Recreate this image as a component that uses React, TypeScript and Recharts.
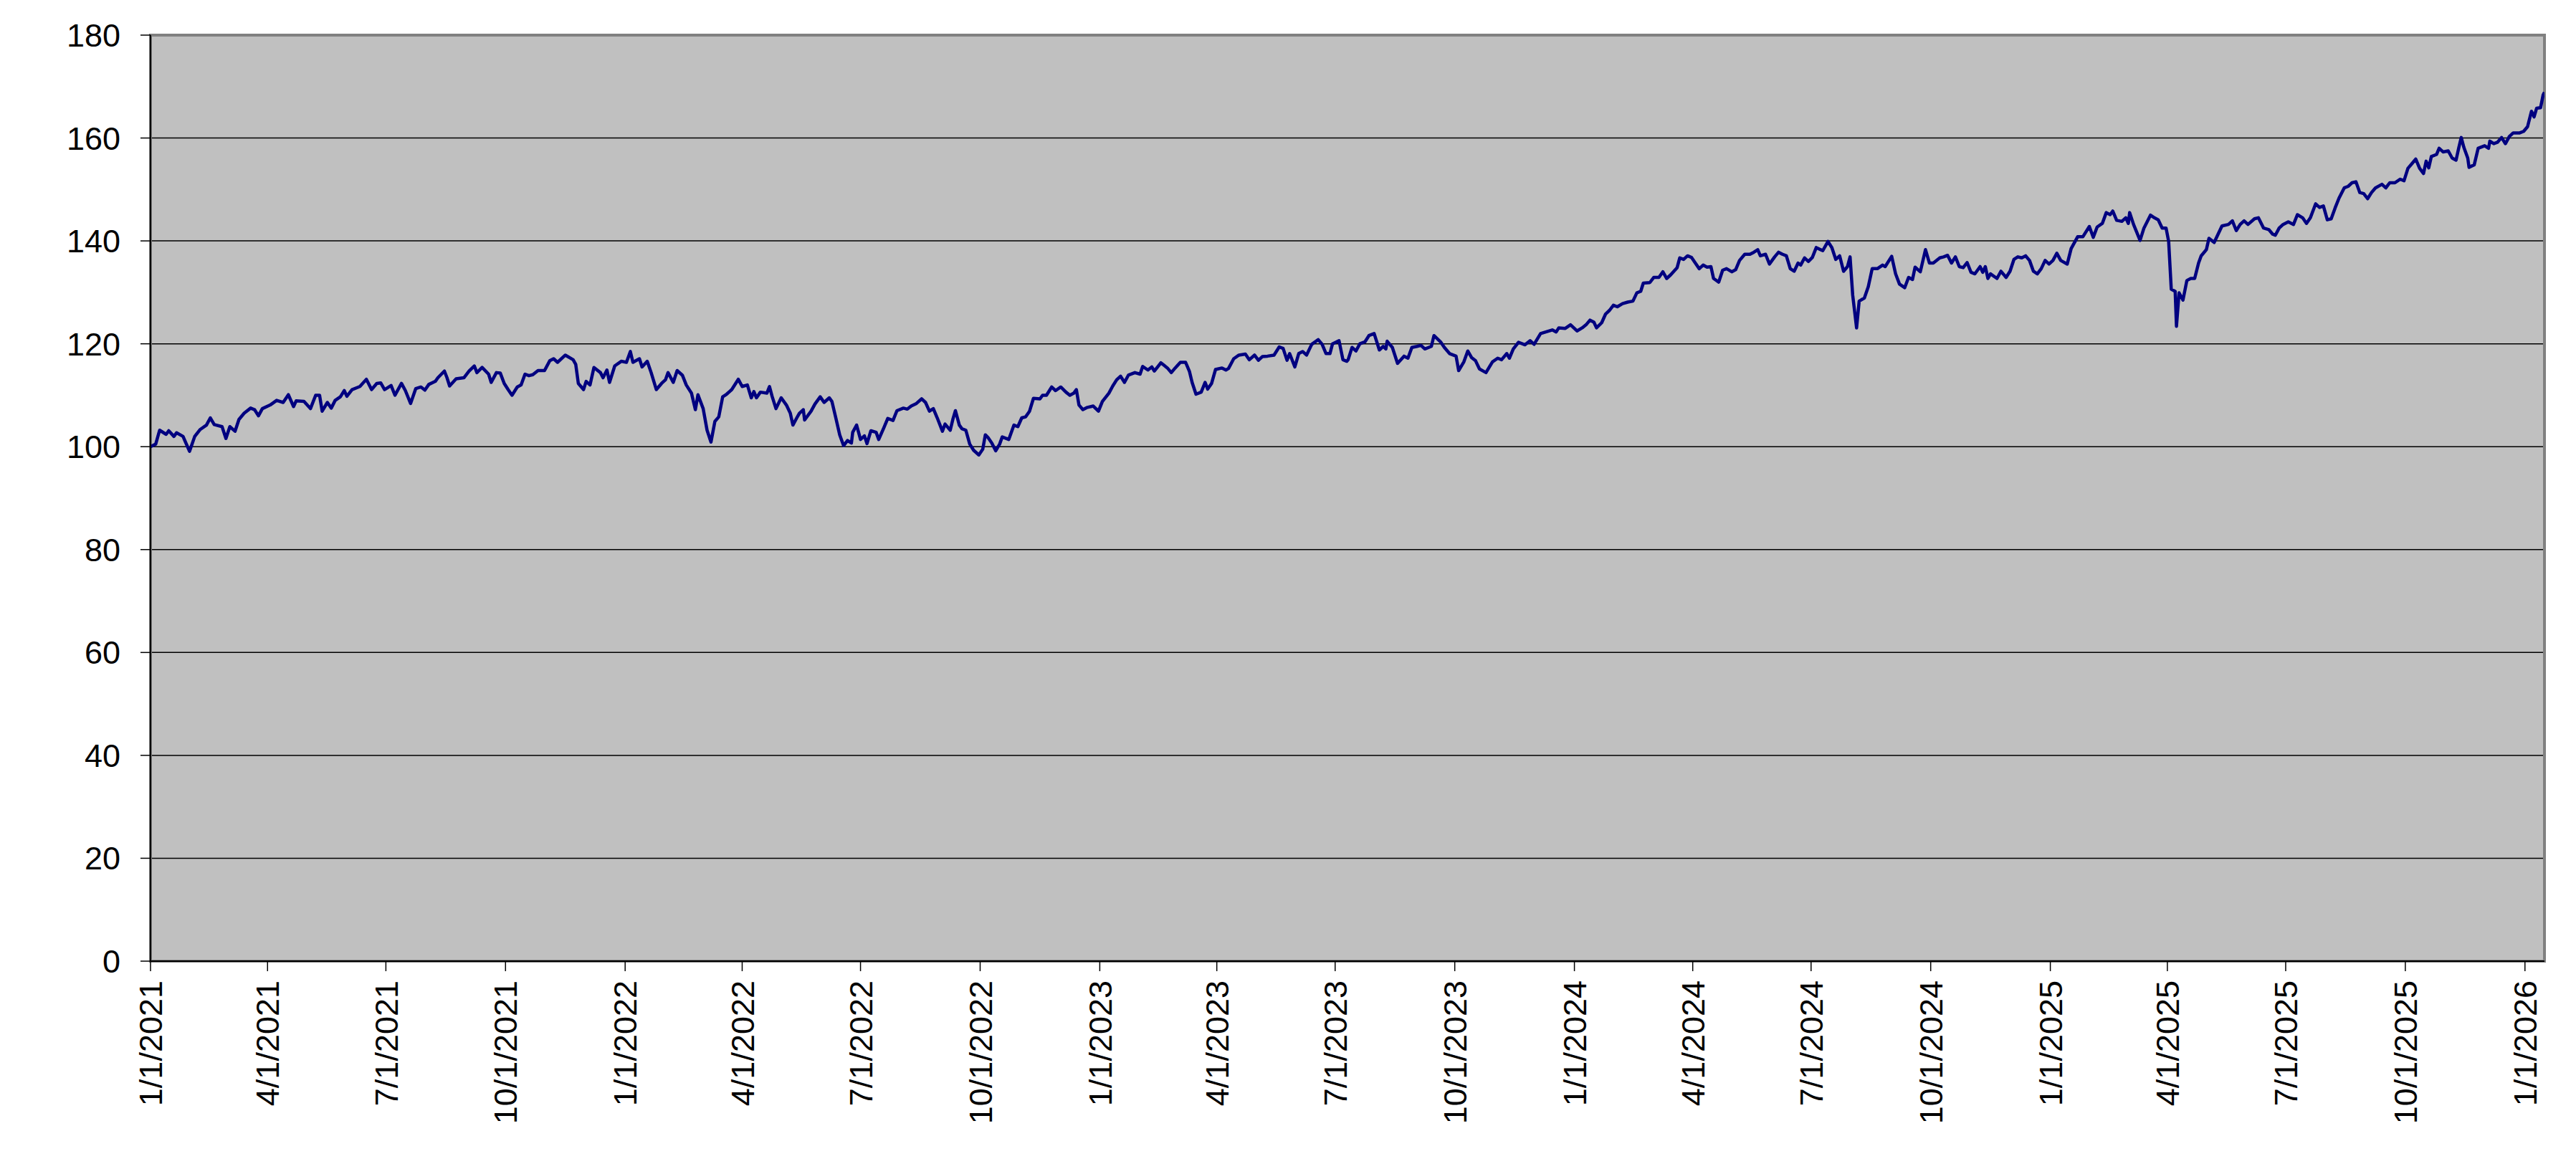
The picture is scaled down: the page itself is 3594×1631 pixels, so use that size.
import { LineChart, Line, XAxis, YAxis, CartesianGrid, ReferenceArea } from 'recharts';

// x values are calendar days counted from 1/1/2021
const tradingDays = [
  0, 4, 7, 12, 14, 18, 20, 25, 30, 34,
  38, 43, 46, 49, 55, 58, 61, 65, 68, 72,
  77, 80, 83, 86, 92, 97, 102, 106, 110, 112,
  118, 123, 127, 130, 132, 136, 139, 142, 146, 149,
  151, 155, 161, 166, 170, 174, 177, 180, 185, 188,
  193, 196, 200, 204, 208, 211, 214, 219, 221, 226,
  228, 230, 235, 241, 245, 249, 251, 255, 260, 262,
  266, 269, 272, 275, 278, 282, 285, 288, 291, 294,
  298, 303, 307, 310, 313, 319, 325, 327, 329, 333,
  335, 338, 341, 346, 348, 351, 353, 357, 362, 366,
  369, 371, 376, 378, 382, 385, 389, 393, 396, 398,
  402, 405, 409, 412, 416, 419, 421, 425, 428, 431,
  434, 437, 440, 443, 447, 452, 455, 459, 462,
  464, 466, 469, 474, 476, 478, 481, 485, 489, 492,
  494, 497, 499, 502, 503, 508, 511, 515, 518, 522,
  524, 527, 530, 533, 536, 539, 540, 543, 546, 549,
  551, 554, 558, 560, 564, 567, 571, 574, 579, 582,
  585, 589, 593, 596, 599, 602, 605, 609, 611, 615,
  617, 619, 622, 624, 627, 630, 633, 637, 640, 642,
  644, 647, 650, 653, 655, 660, 664, 667, 670, 673,
  676, 679, 684, 686, 689, 693, 696, 700, 704, 707,
  710, 712, 714, 717, 720, 725, 729, 732, 737, 740,
  743, 746, 749, 752, 757, 761, 763, 767, 770, 772,
  777, 779, 782, 785, 788, 792, 796, 799, 801, 804,
  808, 811, 813, 816, 819, 824, 827, 829, 833, 837,
  842, 845, 849, 852, 855, 859, 864, 868, 871, 874,
  876, 880, 883, 886, 889, 893, 898, 901, 904, 907,
  909, 914, 917, 920,
  921, 924, 927, 930, 934, 937, 941, 945, 948, 950,
  951, 955, 959, 964, 967, 970, 974, 977, 980, 985,
  987, 992, 995, 999, 1004, 1006, 1010, 1013, 1016, 1019,
  1022, 1027, 1032, 1036, 1039, 1043, 1045, 1048, 1052, 1057,
  1061, 1064, 1069, 1073, 1078, 1081, 1083, 1088, 1092, 1097,
  1101, 1104, 1107, 1110, 1112, 1116, 1119, 1122, 1125, 1128,
  1132, 1136, 1140, 1143, 1146, 1148, 1153, 1156, 1160, 1163,
  1166, 1169, 1174, 1176, 1179, 1182, 1185, 1188, 1191, 1194,
  1197, 1200, 1202, 1206, 1209, 1212, 1216, 1219, 1222, 1226,
  1230, 1233, 1236, 1238, 1242, 1245, 1249, 1252, 1255, 1258,
  1261, 1264, 1267, 1269, 1272, 1275, 1278, 1281, 1286, 1290,
  1293, 1296, 1299, 1302, 1305, 1307, 1309, 1312, 1314, 1318,
  1321, 1324, 1328, 1332, 1334, 1339, 1342, 1345, 1349, 1352,
  1355, 1357, 1361, 1365, 1368, 1371, 1376,
  1379, 1382, 1385, 1388, 1391, 1394, 1397, 1400, 1403, 1407,
  1409, 1411, 1413, 1415, 1420, 1423, 1427, 1430, 1433, 1436,
  1439, 1442, 1445, 1448, 1451, 1454, 1457, 1460, 1463, 1466,
  1469, 1474, 1477, 1482, 1486, 1491, 1494, 1497, 1501, 1504,
  1507, 1509, 1512, 1516, 1519, 1521, 1522, 1525, 1530, 1533,
  1538, 1541, 1544, 1547, 1550, 1552, 1554, 1557, 1558, 1560,
  1563, 1566, 1569, 1572, 1575, 1577, 1581, 1583, 1587, 1590,
  1593, 1598, 1601, 1604, 1607, 1610, 1613, 1618, 1621, 1625,
  1629, 1632, 1634, 1637, 1640, 1644, 1648, 1651, 1655, 1658,
  1661, 1665, 1668, 1671, 1674, 1677, 1680, 1683, 1687, 1690,
  1693, 1696, 1699, 1702, 1705, 1708, 1711, 1716, 1719, 1722,
  1726, 1730, 1733, 1736, 1739, 1742, 1745, 1748, 1750, 1752,
  1754, 1758, 1760, 1763, 1767, 1770, 1773, 1775, 1777, 1779,
  1782, 1783, 1787, 1790, 1795, 1798, 1799, 1802, 1805, 1808,
  1811, 1814, 1817, 1822, 1825, 1828, 1831, 1833, 1835, 1838,
  1840, 1841,
];

const indexLevels = [
  100, 100.5, 103.2, 102.4, 103.1, 102, 102.7, 102, 99.1, 102,
  103.3, 104.2, 105.6, 104.3, 103.9, 101.6, 103.9, 103, 105.3, 106.5,
  107.5, 107.2, 106, 107.4, 108.1, 109, 108.6, 110.1, 107.8, 108.9,
  108.8, 107.4, 110, 110, 106.9, 108.6, 107.5, 109, 109.7, 110.9,
  109.8, 111.1, 111.7, 113.1, 111.1, 112.3, 112.4, 111.1, 111.9, 110,
  112.3, 110.9, 108.4, 111.3, 111.6, 111, 112.1, 112.7, 113.4, 114.7,
  113.4, 111.8, 113.2, 113.4, 114.7, 115.7, 114.4, 115.4, 114.1, 112.5,
  114.4, 114.3, 112.3, 111.1, 110, 111.6, 112, 114.1, 113.8, 114,
  114.8, 114.8, 116.7, 117.1, 116.4, 117.8, 116.9, 116, 112.3, 111.1,
  112.7, 112, 115.4, 114.4, 113.4, 114.9, 112.5, 115.7, 116.6, 116.4,
  118.5, 116.4, 117.1, 115.5, 116.6, 114.4, 111.1, 112.3, 113, 114.4,
  112.5, 114.8, 113.9, 112, 110.4, 107.2, 110.1, 107.4, 103.2, 100.9,
  104.9, 105.8, 109.7, 110.2, 111.1, 113.1, 111.7, 112, 109.5,
  110.7, 109.5, 110.6, 110.4, 111.7, 109.8, 107.4, 109.5, 108.1, 106.5,
  104.2, 105.6, 106.5, 107.2, 105.2, 106.9, 108.3, 109.7, 108.6, 109.5,
  108.8, 105.6, 102.3, 100.2, 101.2, 100.7, 102.8, 104.2, 101.4, 102.1,
  100.6, 103.1, 102.8, 101.4, 103.7, 105.5, 105.1, 107, 107.5, 107.3,
  107.9, 108.4, 109.3, 108.6, 106.9, 107.4, 105.6, 103, 104.4, 103.2,
  105.3, 107, 104.2, 103.5, 103.2, 100.5, 99.3, 98.4, 99.5, 102.3,
  101.8, 100.7, 99.2, 100.5, 101.9, 101.4, 104.2, 103.9, 105.6, 105.8,
  106.9, 109.4, 109.3, 110, 110, 111.6, 110.9, 111.6, 110.6, 110,
  110.4, 111.1, 108.1, 107.2, 107.6, 107.9, 106.9, 108.8, 110.4, 111.8,
  113, 113.7, 112.5, 113.9, 114.4, 114.1, 115.6, 114.9, 115.5, 114.7,
  116.3, 115.9, 115.3, 114.4, 115.3, 116.4, 116.4, 114.6, 112.5, 110.2,
  110.6, 112.5, 111.2, 112.3, 115, 115.3, 114.9, 115.2, 117.1, 117.8,
  118, 116.9, 117.8, 116.8, 117.5, 117.6, 117.8, 119.4, 119.1, 116.8,
  118.1, 115.5, 118.1, 118.5, 117.8, 119.9, 120.8, 119.9, 118.1, 118.1,
  120, 120.6, 116.9, 116.6,
  116.9, 119.3, 118.6, 120, 120.4, 121.6, 122, 118.8, 119.5, 119,
  120.5, 119.3, 116.2, 117.6, 117.2, 119.3, 119.5, 119.7, 119, 119.5,
  121.6, 120.4, 119.3, 118.1, 117.6, 114.8, 116.5, 118.6, 117.3, 116.7,
  115.1, 114.4, 116.5, 117.2, 116.9, 118.1, 117.2, 119, 120.3, 119.8,
  120.6, 119.9, 122, 122.3, 122.7, 122.3, 123.1, 123, 123.7, 122.5,
  123.1, 123.7, 124.6, 124.2, 123.1, 124.1, 125.8, 126.5, 127.5, 127.2,
  127.8, 128.1, 128.3, 129.9, 130.2, 131.8, 131.9, 132.9, 132.9, 134,
  132.7, 133.4, 134.8, 136.7, 136.4, 137.1, 136.8, 135.7, 134.6, 135.3,
  134.9, 135, 132.7, 132, 134.3, 134.6, 134, 134.4, 136.2, 137.4,
  137.4, 137.8, 138.3, 137.1, 137.4, 135.5, 136.9, 137.8, 137.4, 137.1,
  134.6, 134.1, 135.7, 135.3, 136.7, 136, 136.8, 138.7, 138.1, 139.9,
  138.7, 136.4, 137.1, 134.1, 135, 136.9, 129.5, 123.1, 128.3, 128.9,
  131.1, 134.6, 134.6, 135.3, 135, 137, 133.6, 131.6, 130.9, 132.9,
  132.5, 134.9, 134, 138.3, 135.7, 135.7, 136.7,
  136.9, 137.2, 135.7, 136.9, 135, 134.8, 135.8, 133.9, 133.6, 135,
  133.9, 135, 132.7, 133.6, 132.7, 134.1, 132.9, 134.1, 136.4, 136.9,
  136.7, 137.1, 136.2, 134.1, 133.6, 134.6, 136.2, 135.5, 136.2, 137.6,
  136.2, 135.5, 138.5, 140.8, 140.8, 142.8, 140.7, 142.7, 143.4, 145.5,
  145.1, 145.8, 144, 143.8, 144.5, 143.4, 145.5, 143.2, 140.1, 142.5,
  145, 144.5, 144.1, 142.5, 142.5, 139.9, 130.6, 130.2, 123.4, 129.9,
  128.5, 132.3, 132.7, 132.7, 135.7, 137.1, 138.3, 140.5, 139.7, 141.3,
  142.9, 143.2, 143.9, 142, 143.2, 143.9, 143.2, 144.3, 144.5, 142.5,
  142.2, 141.3, 141.1, 142.5, 143.2, 143.7, 143.2, 145.1, 144.5, 143.4,
  144.5, 147.2, 146.5, 146.8, 144.1, 144.3, 146.4, 148.3, 150.3, 150.6,
  151.3, 151.5, 149.4, 149.2, 148.2, 149.4, 150.3, 151, 150.3, 151.3,
  151.3, 152, 151.7, 154.1, 155, 155.9, 154.1, 153.1, 155.5, 154.2,
  156.4, 156.8, 158, 157.3, 157.5, 156.1, 155.7, 158, 160.1, 158.2,
  156.1, 154.3, 154.8, 158, 158.5, 158, 159.4, 158.9, 159.2, 160.1,
  158.9, 160.3, 161, 161, 161.3, 162.2, 165.2, 164.1, 165.8, 165.9,
  168.4, 168.9,
];

const xTickLabels = [
  '1/1/2021', '4/1/2021', '7/1/2021', '10/1/2021',
  '1/1/2022', '4/1/2022', '7/1/2022', '10/1/2022',
  '1/1/2023', '4/1/2023', '7/1/2023', '10/1/2023',
  '1/1/2024', '4/1/2024', '7/1/2024', '10/1/2024',
  '1/1/2025', '4/1/2025', '7/1/2025', '10/1/2025',
  '1/1/2026',
];
const yTicks = [0, 20, 40, 60, 80, 100, 120, 140, 160, 180];
const lastDay = 1841;

const DAY_MS = 86400000;
const START = Date.UTC(2021, 0, 1);
const toDay = (label: string) => {
  const [m, d, y] = label.split('/').map(Number);
  return Math.round((Date.UTC(y, m - 1, d) - START) / DAY_MS);
};
const xTicks = xTickLabels.map(toDay);

const data = tradingDays.map((day, i) => ({ day, value: indexLevels[i] }));

const FONT = '"Liberation Sans", Arial, sans-serif';

const XTick = (props: any) => {
  const { x, y, payload } = props;
  const idx = xTicks.indexOf(payload.value);
  return (
    <g transform={`translate(${x},${y})`}>
      <text transform="rotate(-90)" textAnchor="end" dy="0.36em" fontSize={45} fontFamily={FONT} fill="#000">
        {idx >= 0 ? xTickLabels[idx] : ''}
      </text>
    </g>
  );
};

export default function App() {
  return (
    <div style={{ position: 'absolute', left: 0, top: 0, width: 3594, height: 1631, background: '#fff' }}>
      <LineChart width={3594} height={1631} data={data} margin={{ top: 49, right: 44, bottom: 0, left: 0 }}>
        <CartesianGrid vertical={false} stroke="#000" strokeWidth={1.5} fill="#C0C0C0" fillOpacity={1} />
        <ReferenceArea
          x1={0}
          x2={lastDay}
          y1={0}
          y2={180}
          fill="none"
          stroke="#808080"
          strokeWidth={4}
          ifOverflow="visible"
        />
        <XAxis
          dataKey="day"
          type="number"
          domain={[0, lastDay]}
          ticks={xTicks}
          interval={0}
          height={290}
          tickSize={14}
          tickMargin={13}
          tick={<XTick />}
          axisLine={{ stroke: '#000', strokeWidth: 2 }}
          tickLine={{ stroke: '#000', strokeWidth: 1.5 }}
          allowDataOverflow
        />
        <YAxis
          type="number"
          domain={[0, 180]}
          ticks={yTicks}
          interval={0}
          width={210}
          tickSize={14}
          tickMargin={28}
          tick={{ fontSize: 45, fill: '#000', fontFamily: FONT }}
          axisLine={{ stroke: '#000', strokeWidth: 2 }}
          tickLine={{ stroke: '#000', strokeWidth: 1.5 }}
        />
        <Line
          type="linear"
          dataKey="value"
          stroke="#000080"
          strokeWidth={4.5}
          strokeLinejoin="round"
          dot={false}
          isAnimationActive={false}
        />
      </LineChart>
    </div>
  );
}
